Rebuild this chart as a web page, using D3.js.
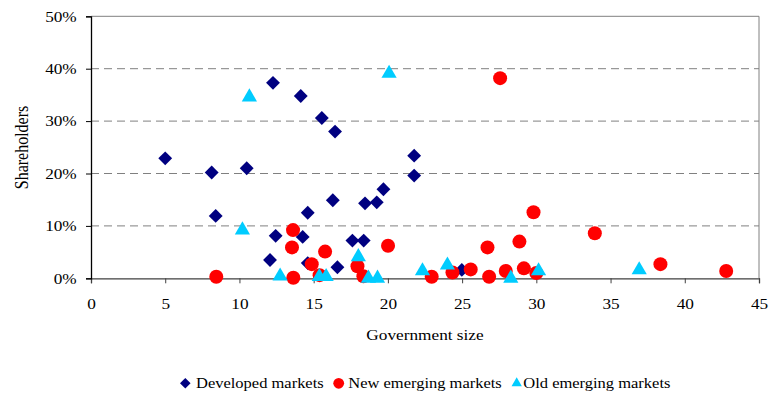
<!DOCTYPE html>
<html>
<head>
<meta charset="utf-8">
<script src="https://cdn.jsdelivr.net/npm/d3@7"></script>
<style>
  html, body { margin: 0; padding: 0; background: #fff; }
  svg { display: block; }
  text { font-family: "Liberation Serif", "Times New Roman", serif; fill: #000; }
</style>
</head>
<body>
<svg id="chart" width="771" height="399"></svg>
<script>
// Government size (x) vs. share of shareholders (y, percent)
const developedX = [5.0, 8.13, 10.49, 8.4, 12.44, 14.26, 12.06, 14.6, 16.29, 16.6, 14.6,
                    12.26, 14.13, 15.55, 16.44, 21.77, 21.77, 19.7, 18.46, 19.25, 17.61, 18.37, 24.98];
const developedY = [22.9, 20.2, 21.0, 11.9, 8.1, 7.9, 3.5, 12.5, 14.9, 2.1, 2.9,
                    37.3, 34.8, 30.6, 28.0, 23.4, 19.6, 17.0, 14.3, 14.5, 7.2, 7.2, 1.6];

const newEmergingX = [13.61, 13.54, 15.77, 14.87, 8.44, 13.63, 15.4, 27.56, 20.01, 17.95, 18.35,
                      22.95, 24.35, 25.58, 26.71, 26.82, 27.94, 28.86, 29.16, 29.81, 30.0,
                      33.94, 38.36, 42.79];
const newEmergingY = [9.2, 5.9, 5.1, 2.7, 0.3, 0.1, 0.6, 38.2, 6.2, 2.3, 0.4,
                      0.3, 1.1, 1.7, 5.9, 0.3, 1.4, 7.0, 1.9, 12.6, 1.0,
                      8.6, 2.7, 1.4];

const oldEmergingX = [10.2, 12.74, 15.38, 15.84, 10.67, 20.08, 18.01, 18.69, 19.3,
                      22.33, 24.01, 28.28, 30.15, 36.93];
const oldEmergingY = [9.2, 0.4, 0.3, 0.3, 34.6, 39.1, 4.1, 0.0, 0.0,
                      1.4, 2.5, 0.0, 1.4, 1.6];

const xTicks = [0, 5, 10, 15, 20, 25, 30, 35, 40, 45];
const yTicks = [0, 10, 20, 30, 40, 50];

const seriesNames = ["Developed markets", "New emerging markets", "Old emerging markets"];
const seriesColors = ["#000080", "#FF0000", "#00CCFF"];

// text is drawn slightly wide, like the chart's original rendering
const stretch = "scale(1.15,1)";
const legendStretch = "scale(1.1,1)";

const svg = d3.select("#chart");
const plotLeft = 91, plotRight = 759, plotTop = 16.3, plotBottom = 278.3;

const x = d3.scaleLinear().domain([0, 45]).range([plotLeft, plotRight]);
const y = d3.scaleLinear().domain([0, 50]).range([plotBottom, plotTop]);

// dashed horizontal gridlines
svg.append("g")
  .selectAll("line")
  .data(yTicks.filter(d => d > 0 && d < 50))
  .join("line")
  .attr("x1", plotLeft).attr("x2", plotRight)
  .attr("y1", d => y(d)).attr("y2", d => y(d))
  .attr("stroke", "#808080")
  .attr("stroke-width", 1)
  .attr("stroke-dasharray", "8,5");

// plot-area border (top and right)
svg.append("path")
  .attr("d", `M${plotLeft},${y(50)}H${plotRight}V${plotBottom}`)
  .attr("fill", "none")
  .attr("stroke", "#808080")
  .attr("stroke-width", 1);

// x axis
const xAxis = svg.append("g")
  .attr("transform", `translate(0,${plotBottom})`)
  .call(d3.axisBottom(x).tickValues(xTicks).tickSize(5).tickPadding(15).tickFormat(d3.format("d")));
xAxis.select(".domain").attr("stroke", "#404040").attr("stroke-width", 1.3);
xAxis.selectAll(".tick line").attr("stroke", "#404040");
xAxis.selectAll("text").attr("font-size", 15).attr("transform", stretch);

// y axis
const yAxis = svg.append("g")
  .attr("transform", `translate(${plotLeft},0)`)
  .call(d3.axisLeft(y).tickValues(yTicks).tickSize(5).tickPadding(7.4).tickFormat(d => d + "%"));
yAxis.select(".domain").attr("stroke", "#000").attr("stroke-width", 1.3);
yAxis.selectAll(".tick line").attr("stroke", "#000");
yAxis.selectAll("text").attr("font-size", 15).attr("transform", stretch);

// axis titles
svg.append("text")
  .attr("transform", `translate(${x(22.5)},340) ${stretch}`)
  .attr("text-anchor", "middle")
  .attr("font-size", 15)
  .text("Government size");

svg.append("text")
  .attr("transform", `translate(28,147.5) rotate(-90) scale(1,1.15)`)
  .attr("text-anchor", "middle")
  .attr("font-size", 16)
  .text("Shareholders");

// marker shapes
const diamondPath = d3.symbol().type(d3.symbolSquare).size(96)();
const trianglePath = d3.symbol().type(d3.symbolTriangle).size(100)();

function drawSeries(xs, ys, idx) {
  const g = svg.append("g");
  const pts = xs.map((v, i) => [v, ys[i]]);
  if (idx === 0) {
    g.selectAll("path").data(pts).join("path")
      .attr("d", diamondPath)
      .attr("transform", d => `translate(${x(d[0])},${y(d[1])}) rotate(45)`)
      .attr("fill", seriesColors[0]);
  } else if (idx === 1) {
    g.selectAll("circle").data(pts).join("circle")
      .attr("cx", d => x(d[0])).attr("cy", d => y(d[1]))
      .attr("r", 7)
      .attr("fill", seriesColors[1]);
  } else {
    g.selectAll("path").data(pts).join("path")
      .attr("d", trianglePath)
      .attr("transform", d => `translate(${x(d[0])},${y(d[1])})`)
      .attr("fill", seriesColors[2]);
  }
}
drawSeries(developedX, developedY, 0);
drawSeries(newEmergingX, newEmergingY, 1);
drawSeries(oldEmergingX, oldEmergingY, 2);

// legend
const legendY = 383.3;
const legendItems = [
  { mx: 185.3, tx: 196 },
  { mx: 338.7, tx: 348.3 },
  { mx: 516.7, tx: 523.3 }
];
const lg = svg.append("g");
legendItems.forEach((it, i) => {
  if (i === 0) {
    lg.append("path")
      .attr("d", d3.symbol().type(d3.symbolSquare).size(56)())
      .attr("transform", `translate(${it.mx},${legendY}) rotate(45)`)
      .attr("fill", seriesColors[0]);
  } else if (i === 1) {
    lg.append("circle").attr("cx", it.mx).attr("cy", legendY).attr("r", 5.4)
      .attr("fill", seriesColors[1]);
  } else {
    lg.append("path")
      .attr("d", d3.symbol().type(d3.symbolTriangle).size(46)())
      .attr("transform", `translate(${it.mx},${legendY})`)
      .attr("fill", seriesColors[2]);
  }
  lg.append("text")
    .attr("transform", `translate(${it.tx},${legendY + 4.5}) ${legendStretch}`)
    .attr("font-size", 15)
    .text(seriesNames[i]);
});
</script>
</body>
</html>
